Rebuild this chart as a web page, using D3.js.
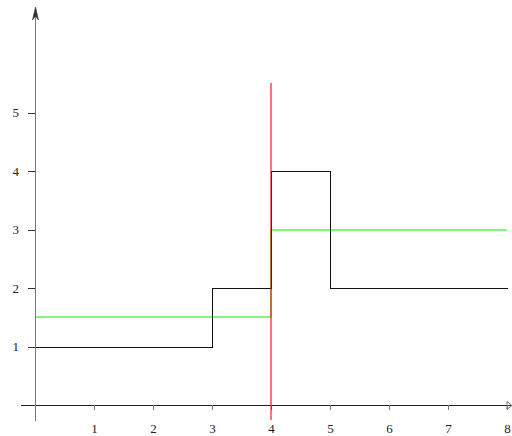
<!DOCTYPE html>
<html><head><meta charset="utf-8">
<script src="https://cdn.jsdelivr.net/npm/d3@7"></script>
<style>body{margin:0;background:#fff}svg{display:block}
.tick text{font-family:"Liberation Serif","Times New Roman",serif !important;font-size:13px !important}</style>
</head><body>
<svg id="c" width="512" height="436"></svg>
<script>
const xTicks = [1,2,3,4,5,6,7,8];
const yTicks = [1,2,3,4,5];
const blackSteps = [[0,1],[3,1],[3,2],[4,2],[4,4],[5,4],[5,2],[8,2]];
const greenSteps = [[0,1.5],[4,1.5],[4,3],[8,3]];
const redLine = [[4,-0.25],[4,5.5]];

const svg = d3.select("#c");
const x = d3.scaleLinear().domain([0,8]).range([35,507]);
const y = d3.scaleLinear().domain([0,5]).range([405,112.5]);

const px = v => Math.round(v) + 0.5;
const pi = v => Math.round(v);

// axes lines
svg.append("line").attr("x1",px(x(-0.25))).attr("x2",511).attr("y1",px(y(0))).attr("y2",px(y(0)))
  .attr("stroke","#222").attr("stroke-width",1).attr("shape-rendering","crispEdges");
svg.append("line").attr("x1",px(x(0))).attr("x2",px(x(0))).attr("y1",px(y(-0.25))).attr("y2",9)
  .attr("stroke","#777").attr("stroke-width",1).attr("shape-rendering","crispEdges");
// arrows
const ax = px(x(0));
svg.append("path").attr("d",`M${ax},7 L${ax-3},20 L${ax},16 L${ax+3},20 Z`).attr("fill","#333").attr("stroke","#333").attr("stroke-width",0.6);
const ay = px(y(0));
svg.append("path").attr("d",`M512,${ay} L507,${ay-4} M512,${ay} L507,${ay+4} M507,${ay-4} L507,${ay+4}`)
  .attr("fill","none").attr("stroke","#555").attr("stroke-width",0.8);

const gx = svg.append("g").attr("transform",`translate(0,${Math.round(y(0))})`)
  .call(d3.axisBottom(x).tickValues(xTicks).tickSize(5).tickSizeOuter(0).tickPadding(14).tickFormat(d3.format("d")));
gx.select(".domain").remove();
gx.selectAll(".tick line").attr("stroke","#777").attr("stroke-width",1).attr("shape-rendering","crispEdges");
gx.selectAll(".tick text").attr("fill","#222");

const gy = svg.append("g").attr("transform",`translate(${Math.round(x(0))},0)`)
  .call(d3.axisLeft(y).tickValues(yTicks).tickSize(7).tickSizeOuter(0).tickPadding(9).tickFormat(d3.format("d")));
gy.select(".domain").remove();
gy.selectAll(".tick line").attr("stroke","#333").attr("stroke-width",1).attr("shape-rendering","crispEdges");
gy.selectAll(".tick text").attr("fill","#222");

const lineC = d3.line().x(d=>px(x(d[0]))).y(d=>px(y(d[1])));
const lineS = d3.line().x(d=>pi(x(d[0]))).y(d=>pi(y(d[1])));
svg.append("path").attr("d",lineS(greenSteps)).attr("fill","none").attr("stroke","#00ee00").attr("stroke-width",1.1);
svg.append("path").attr("d",lineC(blackSteps)).attr("fill","none").attr("stroke","#111").attr("stroke-width",1).attr("shape-rendering","crispEdges");
svg.append("path").attr("d",lineS(redLine)).attr("fill","none").attr("stroke","#ff0000").attr("stroke-width",1.1);
</script>
</body></html>
